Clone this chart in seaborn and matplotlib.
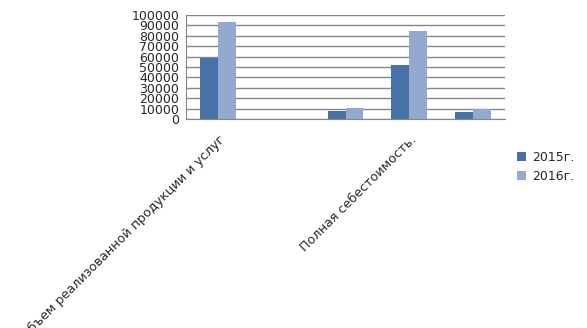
import matplotlib
matplotlib.use("Agg")
import matplotlib.pyplot as plt
import seaborn as sns
import pandas as pd
from matplotlib.patches import Patch

categories = ["1", "2", "3", "4", "5"]
tick_labels = ["Объем реализованной продукции и услуг", "", "", "Полная себестоимость.", ""]
series_names = ["2015г.", "2016г."]
values_2015 = [58600, 0, 7900, 51900, 7000]
values_2016 = [93000, 0, 10800, 84400, 9800]
colors = ["#4672A8", "#94A9D0"]

df = pd.DataFrame({
    "cat": categories * 2,
    "year": [series_names[0]] * 5 + [series_names[1]] * 5,
    "value": values_2015 + values_2016,
})

sns.set_style("white")
plt.rcParams["font.family"] = ["DejaVu Sans"]

fig = plt.figure(figsize=(5.87, 3.28), dpi=100)
ax = fig.add_axes([186/587, 1-119.3/328, (505-186)/587, (119.3-14.7)/328])

sns.barplot(data=df, x="cat", y="value", hue="year", order=categories,
            hue_order=series_names, palette=colors, width=0.564,
            saturation=1, gap=0, ax=ax, legend=False, edgecolor="none")

gc = "#868686"
ax.set_xlim(-0.5, 4.5)
ax.set_ylim(0, 100000)
ax.set_yticks(range(0, 100001, 10000))
ax.set_yticklabels([str(v) for v in range(0, 100001, 10000)], fontsize=9)
ax.yaxis.grid(True, color=gc, linewidth=1)
ax.set_axisbelow(True)
ax.set_xticks(range(5))
ax.set_xticklabels(tick_labels, rotation=45, ha="right", rotation_mode="anchor", fontsize=9.2)
ax.tick_params(axis="x", which="major", length=0, pad=10)
ax.set_xticks([i - 0.5 for i in range(6)], minor=True)
ax.tick_params(axis="x", which="minor", length=5, color=gc, width=1)
ax.tick_params(axis="y", length=4, color=gc, width=1, pad=1)
ax.set_xlabel("")
ax.set_ylabel("")
for s in ["top", "right"]:
    ax.spines[s].set_visible(False)
ax.spines["left"].set_color(gc)
ax.spines["bottom"].set_color(gc)

handles = [Patch(facecolor=c, edgecolor="none") for c in colors]
fig.legend(handles, series_names, loc="upper left", bbox_to_anchor=(506/587, 1-140/328),
           frameon=False, fontsize=9, handlelength=0.7, handleheight=0.7,
           handletextpad=0.5, labelspacing=0.45)

fig.savefig("out.png", dpi=100)
